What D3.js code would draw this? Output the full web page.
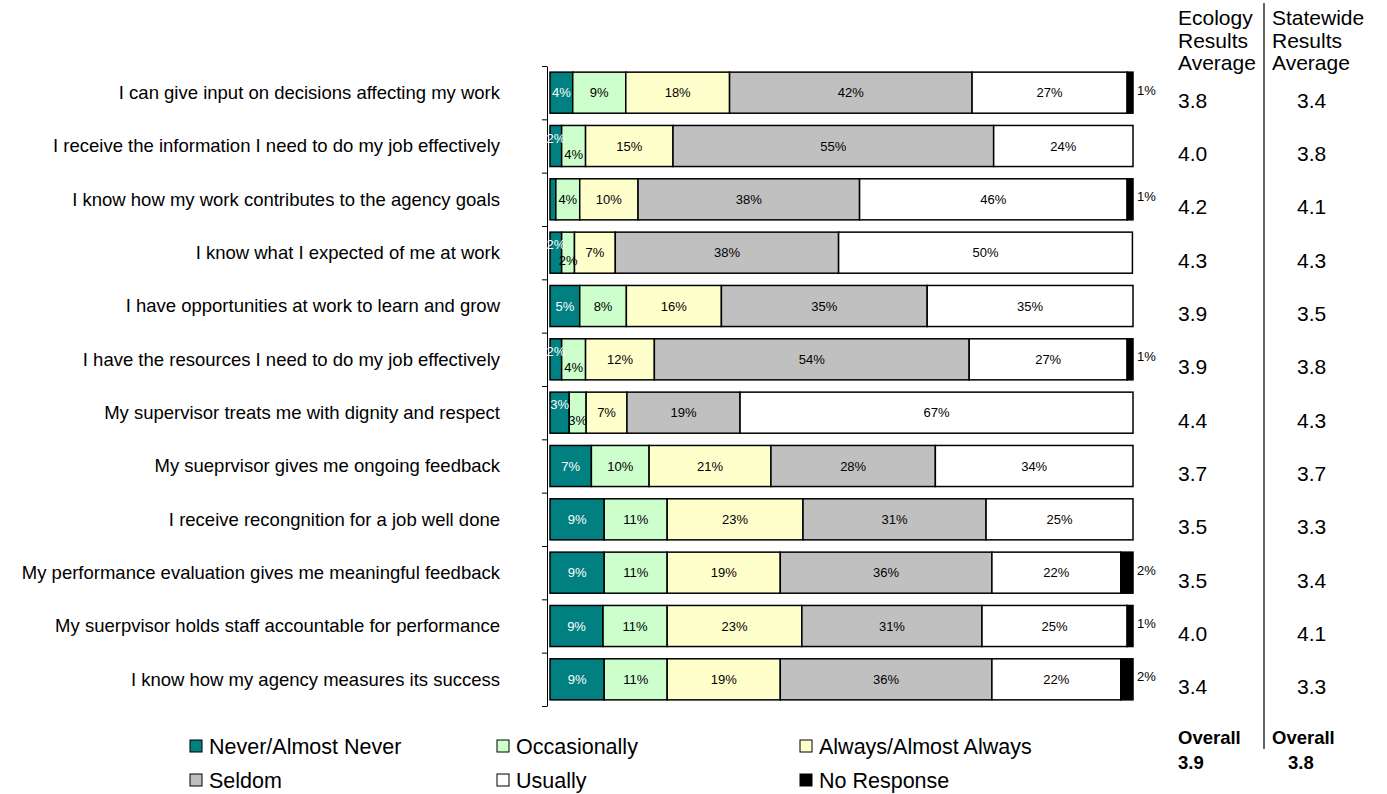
<!DOCTYPE html>
<html>
<head>
  <meta charset="utf-8">
  <script src="https://d3js.org/d3.v7.min.js"></script>
  <style>
    body { margin: 0; background: #fff; }
    text { font-family: "Liberation Sans", Arial, sans-serif; }
    .cat { font-size: 18.5px; fill: #000; }
    .seg-label { font-size: 13px; }
    .col-head, .col-val { font-size: 21px; fill: #000; }
    .overall { font-size: 18.5px; font-weight: bold; fill: #000; }
    .legend text { font-size: 21.5px; fill: #000; }
  </style>
</head>
<body>
<svg id="chart" width="1387" height="794"></svg>
<script>

// ---- data ----
const questions = [
  "I can give input on decisions affecting my work",
  "I receive the information I need to do my job effectively",
  "I know how my work contributes to the agency goals",
  "I know what I expected of me at work",
  "I have opportunities at work to learn and grow",
  "I have the resources I need to do my job effectively",
  "My supervisor treats me with dignity and respect",
  "My sueprvisor gives me ongoing feedback",
  "I receive recongnition for a job well done",
  "My performance evaluation gives me meaningful feedback",
  "My suerpvisor holds staff accountable for performance",
  "I know how my agency measures its success"
];

const seriesNames = ["Never/Almost Never", "Occasionally", "Always/Almost Always",
                     "Seldom", "Usually", "No Response"];
const seriesColors = ["#008080", "#CCFFCC", "#FFFFCC", "#C0C0C0", "#FFFFFF", "#000000"];

// percentages per question, in series order
const neverVals      = [3.9, 2.0, 1.0, 2.0, 5.1, 2.0, 3.3, 7.1, 9.3, 9.3, 9.1, 9.3];
const occasionVals   = [9.1, 4.1, 4.1, 2.2, 8.0, 4.1, 2.9, 9.9, 10.8, 10.8, 11.0, 10.8];
const alwaysVals     = [17.8, 15.0, 10.0, 7.0, 16.3, 11.8, 7.0, 20.9, 23.3, 19.4, 23.1, 19.4];
const seldomVals     = [41.6, 55.0, 38.0, 38.3, 35.3, 54.0, 19.4, 28.2, 31.4, 36.3, 30.9, 36.3];
const usuallyVals    = [26.6, 23.9, 45.9, 50.4, 35.3, 27.1, 67.4, 33.9, 25.2, 22.1, 24.9, 22.1];
const noRespVals     = [1.0, 0, 1.0, 0, 0, 1.0, 0, 0, 0, 2.1, 1.0, 2.1];

const ecologyAvg   = ["3.8", "4.0", "4.2", "4.3", "3.9", "3.9", "4.4", "3.7", "3.5", "3.5", "4.0", "3.4"];
const statewideAvg = ["3.4", "3.8", "4.1", "4.3", "3.5", "3.8", "4.3", "3.7", "3.3", "3.4", "4.1", "3.3"];
const ecologyHead   = ["Ecology", "Results", "Average"];
const statewideHead = ["Statewide", "Results", "Average"];
const ecologyOverall = "3.9";
const statewideOverall = "3.8";

// ---- layout ----
const svg = d3.select("#chart");
const plot = { left: 550, right: 1133, top: 66, bottom: 706 };

const allVals = [neverVals, occasionVals, alwaysVals, seldomVals, usuallyVals, noRespVals];
const rows = questions.map((q, i) => {
  let row = { q: q, i: i };
  seriesNames.forEach((s, k) => row[s] = allVals[k][i]);
  return row;
});
const stacked = d3.stack().keys(seriesNames)(rows);

const x = d3.scaleLinear().domain([0, 100]).range([plot.left, plot.right]);
const y = d3.scaleBand().domain(questions).range([plot.top, plot.bottom])
            .paddingInner(0.23).paddingOuter(0.115);

// axis with ticks between categories
const tickScale = d3.scaleLinear().domain([0, questions.length]).range([plot.top, plot.bottom]);
svg.append("g")
   .attr("transform", `translate(${plot.left - 3},0)`)
   .call(d3.axisLeft(tickScale).ticks(questions.length).tickFormat("").tickSize(5).tickSizeOuter(0))
   .call(g => g.selectAll("line,path").attr("stroke", "#000"));

// category labels
svg.append("g").selectAll("text")
   .data(questions)
   .join("text")
   .attr("class", "cat")
   .attr("x", 500)
   .attr("y", d => y(d) + y.bandwidth() / 2)
   .attr("dy", "0.35em")
   .attr("text-anchor", "end")
   .text(d => d);

// bars
const layers = svg.append("g").selectAll("g")
   .data(stacked)
   .join("g")
   .attr("fill", (d, k) => seriesColors[k]);

layers.selectAll("rect")
   .data(d => d.filter(p => p[1] - p[0] > 0))
   .join("rect")
   .attr("x", p => x(p[0]))
   .attr("y", p => y(p.data.q))
   .attr("width", p => x(p[1]) - x(p[0]))
   .attr("height", y.bandwidth())
   .attr("stroke", "#000")
   .attr("stroke-width", 1.5);

// segment labels
stacked.forEach((layer, k) => {
  layer.forEach(p => {
    const v = p[1] - p[0];
    if (v <= 0) return;
    const row = p.data;
    const cy = y(row.q) + y.bandwidth() / 2;
    if (k === 5) {
      svg.append("text").attr("class", "seg-label")
         .attr("x", x(p[1]) + 4).attr("y", cy + 2)
         .attr("fill", "#000")
         .text(Math.round(v) + "%");
      return;
    }
    if (v < 1.5) return;
    let dy = 0;
    // excel nudges the two narrow leading labels apart
    if (k < 2 && row[seriesNames[0]] >= 1.5 && row[seriesNames[0]] < 5 && row[seriesNames[1]] < 5) {
      dy = k === 0 ? -8 : 8;
    }
    svg.append("text").attr("class", "seg-label")
       .attr("x", (x(p[0]) + x(p[1])) / 2)
       .attr("y", cy + dy)
       .attr("dy", "0.35em")
       .attr("text-anchor", "middle")
       .attr("fill", k === 0 ? "#fff" : "#000")
       .text(Math.round(v) + "%");
  });
});

// right-hand columns
const colX = { eco: 1178, state: 1272, stateVal: 1297, divider: 1264 };
svg.append("line")
   .attr("x1", colX.divider).attr("x2", colX.divider)
   .attr("y1", 3).attr("y2", 749)
   .attr("stroke", "#000").attr("stroke-width", 1.2);

ecologyHead.forEach((t, i) => {
  svg.append("text").attr("class", "col-head").attr("x", colX.eco).attr("y", 25 + i * 22.5).text(t);
});
statewideHead.forEach((t, i) => {
  svg.append("text").attr("class", "col-head").attr("x", colX.state).attr("y", 25 + i * 22.5).text(t);
});

svg.append("g").selectAll("text")
   .data(ecologyAvg)
   .join("text").attr("class", "col-val")
   .attr("x", colX.eco)
   .attr("y", (d, i) => y(questions[i]) + y.bandwidth() / 2 + 15)
   .text(d => d);
svg.append("g").selectAll("text")
   .data(statewideAvg)
   .join("text").attr("class", "col-val")
   .attr("x", colX.stateVal)
   .attr("y", (d, i) => y(questions[i]) + y.bandwidth() / 2 + 15)
   .text(d => d);

svg.append("text").attr("class", "overall").attr("x", colX.eco).attr("y", 744).text("Overall");
svg.append("text").attr("class", "overall").attr("x", colX.eco).attr("y", 769).text(ecologyOverall);
svg.append("text").attr("class", "overall").attr("x", colX.state).attr("y", 744).text("Overall");
svg.append("text").attr("class", "overall").attr("x", 1288).attr("y", 769).text(statewideOverall);

// legend (3 columns, 2 rows)
const legendCols = [190, 497, 800];
const legendRows = [746, 780];
const legend = svg.append("g").attr("class", "legend")
   .selectAll("g")
   .data(seriesNames)
   .join("g")
   .attr("transform", (d, i) => `translate(${legendCols[i % 3]},${legendRows[Math.floor(i / 3)]})`);
legend.append("rect")
   .attr("x", 0).attr("y", -6).attr("width", 12).attr("height", 12)
   .attr("fill", (d, i) => seriesColors[i])
   .attr("stroke", "#000").attr("stroke-width", 1);
legend.append("text")
   .attr("x", 19).attr("dy", "0.36em")
   .text(d => d);

</script>
</body>
</html>
